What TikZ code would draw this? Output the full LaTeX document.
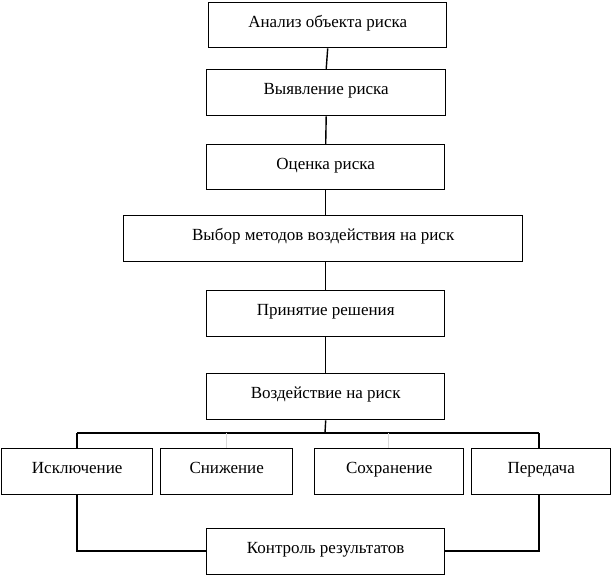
\documentclass[tikz,border=0pt]{standalone}
\usepackage{fontspec}
\setmainfont{Liberation Serif}
\begin{document}
\begin{tikzpicture}[x=1pt,y=-1pt,
  box/.style={draw,line width=1.4pt,rectangle,inner sep=0pt,font=\fontsize{17}{20}\selectfont,text height=12pt,text depth=8pt,anchor=north west},
  conn/.style={line width=1.4pt},
  ghost/.style={line width=0.6pt,black!15}]
\useasboundingbox (0,0) rectangle (611,575);
\node[box,minimum width=238pt,minimum height=45pt] (a) at (208,2) {Анализ объекта риска};
\node[box,minimum width=239pt,minimum height=46pt] (b) at (206,69) {Выявление риска};
\node[box,minimum width=238pt,minimum height=45pt] (c) at (206,144) {Оценка риска};
\node[box,minimum width=399pt,minimum height=46pt] (d) at (123,215) {Выбор методов воздействия на риск};
\node[box,minimum width=238pt,minimum height=46pt] (e) at (206,290) {Принятие решения};
\node[box,minimum width=238pt,minimum height=46pt] (f) at (206,373) {Воздействие на риск};
\node[box,minimum width=151pt,minimum height=46pt] (isk) at (1,448) {Исключение};
\node[box,minimum width=132pt,minimum height=46pt] (sni) at (160,448) {Снижение};
\node[box,minimum width=149pt,minimum height=46pt] (sox) at (314,448) {Сохранение};
\node[box,minimum width=139pt,minimum height=46pt] (per) at (471,448) {Передача};
\node[box,minimum width=238pt,minimum height=46pt] (kon) at (206,528) {Контроль результатов};
\coordinate (bus) at (325,433);
\coordinate (busL) at (77,433);
\coordinate (busR) at (539,433);
\coordinate (gL) at (226,433);
\coordinate (gR) at (388,433);
\coordinate (lowL) at (77,551);
\coordinate (lowR) at (539,551);
\draw[conn] (a.south) -- (b.north);
\draw[conn] (b.south) -- (c.north);
\draw[conn] (c.south) -- (c.south |- d.north);
\draw[conn] (c.south |- d.south) -- (e.north);
\draw[conn] (e.south) -- (f.north);
\draw[conn] (f.south) -- (bus);
\draw[conn] (busL) -- (busR);
\draw[conn] (busL) -- (busL |- isk.north);
\draw[conn] (busR) -- (busR |- per.north);
\draw[ghost] (gL) -- (gL |- sni.north);
\draw[ghost] (gR) -- (gR |- sox.north);
\draw[conn] (lowL |- isk.south) -- (lowL) -- (lowL -| kon.west);
\draw[conn] (lowR |- per.south) -- (lowR) -- (lowR -| kon.east);
\end{tikzpicture}
\end{document}
